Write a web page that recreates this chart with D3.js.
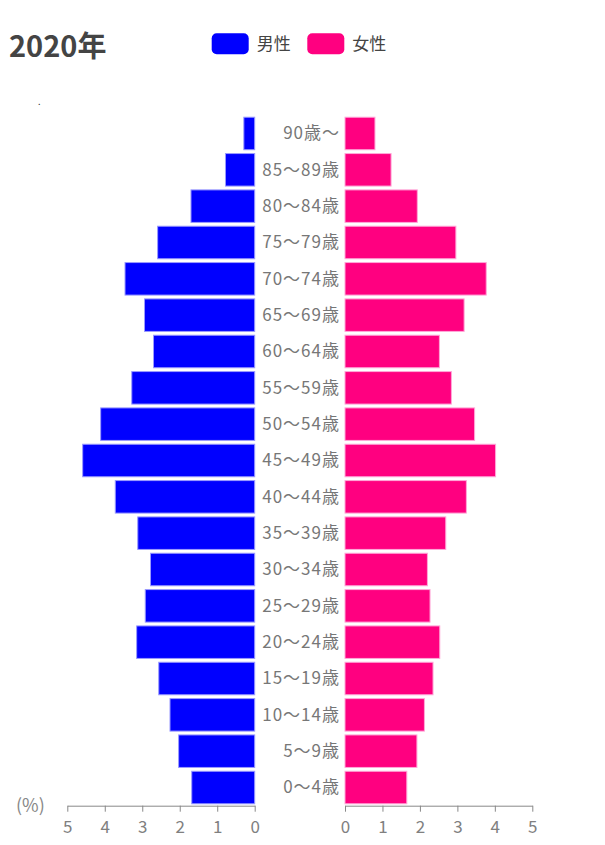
<!DOCTYPE html>
<html>
<head>
<meta charset="utf-8">
<script src="https://cdn.jsdelivr.net/npm/d3@7"></script>
<style>
html,body{margin:0;padding:0;background:#fff;}
svg{display:block;font-family:"Noto Sans CJK JP","Noto Sans",sans-serif;}
</style>
</head>
<body>
<svg id="chart" width="605" height="845"></svg>
<script>
const title = "2020年";
const seriesNames = ["男性", "女性"];
const seriesColors = ["#0000ff", "#ff0080"];
const seriesStrokes = ["#9a9aff", "#ffa8d8"];
const categories = ["0～4歳","5～9歳","10～14歳","15～19歳","20～24歳","25～29歳","30～34歳","35～39歳","40～44歳","45～49歳","50～54歳","55～59歳","60～64歳","65～69歳","70～74歳","75～79歳","80～84歳","85～89歳","90歳～"];
const male =   [1.68, 2.03, 2.26, 2.56, 3.15, 2.92, 2.78, 3.12, 3.72, 4.59, 4.11, 3.28, 2.70, 2.94, 3.46, 2.59, 1.70, 0.78, 0.29];
const female = [1.65, 1.92, 2.12, 2.35, 2.53, 2.27, 2.20, 2.69, 3.24, 4.02, 3.46, 2.84, 2.52, 3.18, 3.77, 2.96, 1.93, 1.23, 0.80];
const tickValues = [0, 1, 2, 3, 4, 5];
const unitLabel = "(%)";

const svg = d3.select("#chart");

const xL = d3.scaleLinear().domain([0, 5]).range([254.7, 67.3]);
const xR = d3.scaleLinear().domain([0, 5]).range([345, 532.3]);
const y = d3.scaleBand().domain(categories.slice().reverse()).range([115.4, 805.6]).paddingInner(0.105).paddingOuter(0.05);

// title
svg.append("text").attr("x", 9).attr("y", 57).text(title)
  .attr("font-size", 29).attr("font-weight", "bold").attr("fill", "#444");

// tiny subtitle dot
svg.append("text").attr("x", 38).attr("y", 105).text(".")
  .attr("font-size", 9).attr("fill", "#333");

// legend
const legendX = [211.7, 307.3];
seriesNames.forEach((n, i) => {
  svg.append("rect").attr("x", legendX[i]).attr("y", 33.3).attr("width", 37).attr("height", 21)
    .attr("rx", 5).attr("fill", seriesColors[i]);
  svg.append("text").attr("x", legendX[i] + 45).attr("y", 44).attr("dy", "0.35em").text(n)
    .attr("font-size", 17).attr("fill", "#444");
});

// bars
const data = categories.map((c, i) => ({c, m: male[i], f: female[i]}));
svg.append("g").selectAll("rect").data(data).join("rect")
  .attr("x", d => xL(d.m)).attr("width", d => xL(0) - xL(d.m))
  .attr("y", d => y(d.c)).attr("height", y.bandwidth())
  .attr("fill", seriesColors[0]).attr("stroke", seriesStrokes[0]).attr("stroke-width", 1);
svg.append("g").selectAll("rect").data(data).join("rect")
  .attr("x", xR(0)).attr("width", d => xR(d.f) - xR(0))
  .attr("y", d => y(d.c)).attr("height", y.bandwidth())
  .attr("fill", seriesColors[1]).attr("stroke", seriesStrokes[1]).attr("stroke-width", 1);

// category labels
svg.append("g").selectAll("text").data(categories).join("text")
  .attr("x", 340).attr("y", d => y(d) + y.bandwidth() / 2).attr("dy", "0.35em")
  .attr("text-anchor", "end").attr("font-size", 17).attr("letter-spacing", 1)
  .attr("fill", "#777").text(d => d);

// axes
function styleAxis(g) {
  g.select(".domain").attr("stroke", "#888");
  g.selectAll(".tick line").attr("stroke", "#888");
  g.selectAll(".tick text").attr("fill", "#808080").attr("font-size", 17)
    .attr("font-family", "'Noto Sans CJK JP','Noto Sans',sans-serif").attr("dy", "0.9em");
}
const axisY = 805.7;
svg.append("g").attr("transform", `translate(0,${axisY})`)
  .call(d3.axisBottom(xL).tickValues(tickValues).tickSize(6).tickSizeOuter(0).tickPadding(6).tickFormat(d3.format("d")))
  .call(styleAxis);
svg.append("g").attr("transform", `translate(0,${axisY})`)
  .call(d3.axisBottom(xR).tickValues(tickValues).tickSize(6).tickSizeOuter(0).tickPadding(6).tickFormat(d3.format("d")))
  .call(styleAxis);

svg.append("text").attr("x", 16).attr("y", 806).attr("dy", "0.35em").text(unitLabel)
  .attr("font-size", 18).attr("fill", "#888");
</script>
</body>
</html>
